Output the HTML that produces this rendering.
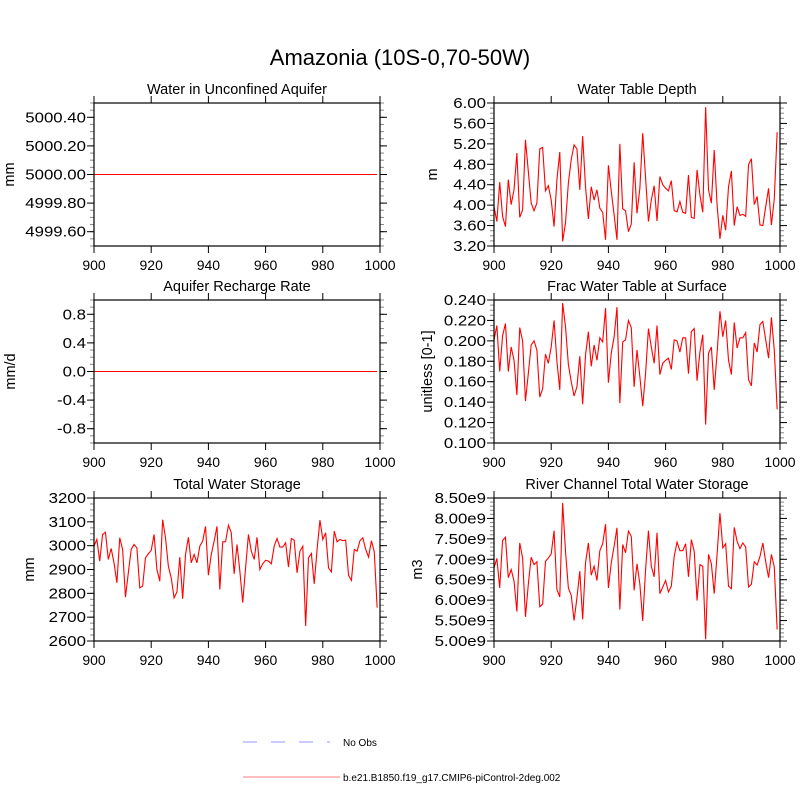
<!DOCTYPE html>
<html><head><meta charset="utf-8"><style>
html,body{margin:0;padding:0;background:#fff}
svg{display:block;font-family:"Liberation Sans",sans-serif}
</style></head><body>
<svg id="c" width="800" height="800"></svg>
<script>
const years = Array.from({length:100},(_,i)=>900+i);
const xTicks = [900,920,940,960,980,1000];
const aquiferWater = new Array(100).fill(5000);
const rechargeRate = new Array(100).fill(0);
const tableDepth = [3.97,3.68,4.45,3.78,3.58,4.50,4.01,4.30,5.02,3.76,3.91,5.28,4.66,4.04,3.89,4.04,5.10,5.13,4.28,4.38,4.10,3.58,4.50,5.04,3.29,3.65,4.43,4.89,5.18,5.10,4.30,5.35,4.36,3.73,4.36,4.10,4.30,3.94,3.86,3.32,4.78,4.27,3.81,3.32,5.20,3.93,3.89,3.48,3.63,4.84,3.84,4.33,5.41,4.53,3.68,4.10,4.38,3.69,4.56,4.40,4.33,4.28,4.48,3.89,3.87,4.07,3.86,3.84,4.59,3.76,3.74,4.69,4.20,3.86,5.92,4.30,4.04,5.08,4.01,3.34,3.80,3.51,4.36,4.67,3.60,3.97,3.80,3.82,3.78,4.79,4.91,4.01,4.17,3.61,3.60,3.97,4.33,3.61,4.12,5.43];
const fracSurface = [0.201,0.215,0.170,0.205,0.217,0.170,0.194,0.181,0.147,0.213,0.200,0.141,0.168,0.196,0.200,0.191,0.145,0.153,0.187,0.178,0.194,0.220,0.180,0.152,0.237,0.214,0.177,0.160,0.146,0.155,0.185,0.138,0.186,0.209,0.175,0.196,0.181,0.203,0.199,0.232,0.159,0.188,0.204,0.233,0.139,0.199,0.201,0.220,0.213,0.155,0.191,0.165,0.136,0.168,0.212,0.194,0.178,0.215,0.167,0.178,0.181,0.183,0.172,0.201,0.200,0.189,0.203,0.203,0.168,0.209,0.212,0.161,0.189,0.206,0.118,0.188,0.194,0.152,0.188,0.229,0.204,0.220,0.181,0.167,0.218,0.193,0.203,0.203,0.208,0.162,0.156,0.198,0.189,0.216,0.219,0.201,0.183,0.223,0.191,0.133];
const totalStorage = [2998,3026,2935,3047,3056,2942,2988,2928,2844,3033,2984,2784,2886,2984,3005,2991,2823,2830,2949,2966,2980,3047,2900,2851,3109,3033,2914,2865,2781,2806,2952,2777,2963,3035,2928,2963,2928,2998,3019,3081,2876,2963,3019,3081,2816,3016,3016,3086,3054,2882,3005,2893,2761,2907,3047,2977,2942,3035,2900,2924,2939,2935,2924,2998,3030,2994,2994,3012,2910,3030,3023,2886,2977,2998,2663,2949,2967,2840,2984,3107,3026,3054,2907,2890,3061,3016,3026,3021,3023,2876,2854,2984,2977,3021,3033,2984,2952,3021,2974,2740];
const riverStorage = [6.79,7.02,6.30,7.46,7.54,6.55,6.75,6.47,5.72,7.40,7.03,5.59,6.39,7.05,6.87,6.94,5.84,5.90,6.95,7.03,7.13,7.70,6.26,6.08,8.38,7.20,6.30,6.12,5.50,6.06,6.71,5.53,6.91,7.40,6.61,6.83,6.48,7.21,7.38,7.86,6.30,6.91,7.32,7.77,5.77,7.36,7.16,7.69,7.56,6.24,6.89,6.39,5.49,6.75,7.70,6.83,6.57,7.65,6.16,6.32,6.48,6.20,6.34,7.07,7.42,7.21,7.21,7.38,6.57,7.48,7.20,5.99,6.87,6.83,5.04,7.12,6.89,6.16,7.12,8.13,7.28,7.38,6.34,6.28,7.78,7.44,7.26,7.40,7.30,6.32,6.39,6.94,6.86,7.07,7.40,6.94,6.55,7.12,6.81,5.28];

const NS='http://www.w3.org/2000/svg';
const svg=document.getElementById('c');
function mk(tag,attrs,parent){const e=document.createElementNS(NS,tag);for(const k in attrs)e.setAttribute(k,attrs[k]);(parent||svg).appendChild(e);return e;}

const panels=[
 {name:'aquifer-water',title:'Water in Unconfined Aquifer',yl:'mm',ylx:9,x0:94,x1:380,y0:103,y1:246,ymin:4999.5,ymax:5000.5,major:[4999.6,4999.8,5000,5000.2,5000.4],minorStep:0.05,fmt:v=>v.toFixed(2),data:aquiferWater},
 {name:'water-table-depth',title:'Water Table Depth',yl:'m',ylx:432,x0:494,x1:780,y0:103,y1:246,ymin:3.2,ymax:6.0,major:[3.2,3.6,4.0,4.4,4.8,5.2,5.6,6.0],minorStep:0.1,fmt:v=>v.toFixed(2),data:tableDepth},
 {name:'recharge-rate',title:'Aquifer Recharge Rate',yl:'mm/d',ylx:10,x0:94,x1:380,y0:300,y1:443,ymin:-1,ymax:1,major:[-0.8,-0.4,0,0.4,0.8],minorStep:0.1,fmt:v=>v.toFixed(1),data:rechargeRate},
 {name:'frac-surface',title:'Frac Water Table at Surface',yl:'unitless [0-1]',ylx:427,x0:494,x1:780,y0:300,y1:443,ymin:0.1,ymax:0.24,major:[0.10,0.12,0.14,0.16,0.18,0.20,0.22,0.24],minorStep:0.005,fmt:v=>v.toFixed(3),data:fracSurface},
 {name:'total-storage',title:'Total Water Storage',yl:'mm',ylx:29,x0:94,x1:380,y0:498,y1:641,ymin:2600,ymax:3200,major:[2600,2700,2800,2900,3000,3100,3200],minorStep:25,fmt:v=>v.toFixed(0),data:totalStorage},
 {name:'river-storage',title:'River Channel Total Water Storage',yl:'m3',ylx:417,x0:494,x1:780,y0:498,y1:641,ymin:5.0,ymax:8.5,major:[5,5.5,6,6.5,7,7.5,8,8.5],minorStep:0.1,fmt:v=>v.toFixed(2)+'e9',data:riverStorage}
];

const title=mk('text',{x:400,y:65,'text-anchor':'middle','font-size':22,fill:'#000'});
title.textContent='Amazonia (10S-0,70-50W)';



panels.forEach(p=>{
 const g=mk('g',{});
 
 
 const sx=v=>p.x0+(v-900)/100*(p.x1-p.x0);
 const sy=v=>p.y1-(v-p.ymin)/(p.ymax-p.ymin)*(p.y1-p.y0);
 const n=Math.round((p.ymax-p.ymin)/p.minorStep);
 for(let i=0;i<=n;i++){const y=sy(p.ymin+i*p.minorStep);
  mk('line',{x1:p.x0-4,x2:p.x0,y1:y,y2:y,stroke:'#888','stroke-width':1},g);
  mk('line',{x1:p.x1,x2:p.x1+4,y1:y,y2:y,stroke:'#888','stroke-width':1},g);}
 p.major.forEach(v=>{const y=sy(v);
  mk('line',{x1:p.x0-7,x2:p.x0,y1:y,y2:y,stroke:'#000','stroke-width':1},g);
  mk('line',{x1:p.x1,x2:p.x1+7,y1:y,y2:y,stroke:'#000','stroke-width':1},g);
  const t=mk('text',{x:p.x0-8,y:y+5,'text-anchor':'end','font-size':15,fill:'#000'},g);
  t.textContent=p.fmt(v);
  
  
  const w=t.getComputedTextLength();
  if(w>0){t.setAttribute('textLength',(w*1.12).toFixed(1));t.setAttribute('lengthAdjust','spacingAndGlyphs');}
 });
 xTicks.forEach(v=>{const x=sx(v);
  mk('line',{x1:x,x2:x,y1:p.y1,y2:p.y1+7,stroke:'#000','stroke-width':1},g);
  mk('line',{x1:x,x2:x,y1:p.y0-7,y2:p.y0,stroke:'#000','stroke-width':1},g);
  const t=mk('text',{x:x,y:p.y1+24,'text-anchor':'middle','font-size':14,fill:'#000'},g);
  t.textContent=v;
  
  });
 const pts=p.data.map((v,i)=>sx(years[i]).toFixed(2)+','+sy(v).toFixed(2)).join(' ');
 const line=mk('polyline',{points:pts,fill:'none',stroke:'#ff0000','stroke-width':1.1},g);
 
 
 const fr=mk('rect',{x:p.x0,y:p.y0,width:p.x1-p.x0,height:p.y1-p.y0,fill:'none',stroke:'#000','stroke-width':1.2},g);
 
 
 const tt=mk('text',{x:(p.x0+p.x1)/2,y:p.y0-9,'text-anchor':'middle','font-size':14.5,fill:'#000'},g);
 tt.textContent=p.title;
 
 
 const cy=(p.y0+p.y1)/2, lx=p.ylx+5;
 const yl=mk('text',{x:lx,y:cy,'text-anchor':'middle','font-size':14.5,fill:'#000',transform:'rotate(-90 '+lx+' '+cy+')'},g);
 yl.textContent=p.yl;
 
 
});

const lg=mk('g',{});


mk('line',{x1:243,x2:330,y1:742,y2:742,stroke:'#aaaaff','stroke-width':1.3,'stroke-dasharray':'14,14'},lg);
const l1=mk('text',{x:343,y:746,'font-size':10,fill:'#000'},lg);
l1.textContent='No Obs';


mk('line',{x1:243,x2:340,y1:777,y2:777,stroke:'#ff9999','stroke-width':1.3},lg);
const l2=mk('text',{x:343,y:781,'font-size':10,fill:'#000'},lg);
l2.textContent='b.e21.B1850.f19_g17.CMIP6-piControl-2deg.002';


</script>
</body></html>
